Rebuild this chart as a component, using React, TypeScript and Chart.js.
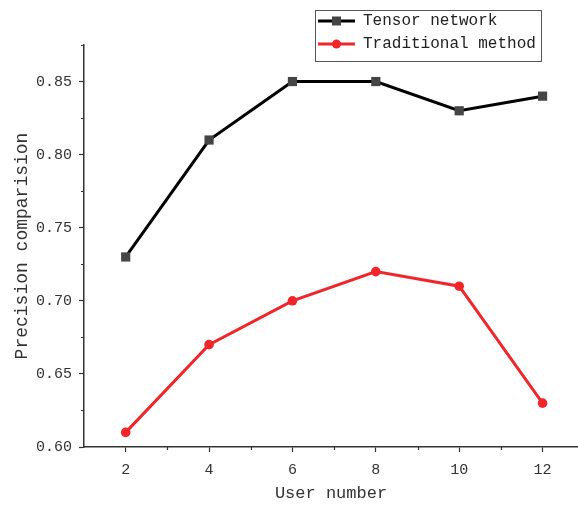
import React, { useEffect, useRef } from "react";
import { Chart, registerables } from "chart.js";

Chart.register(...registerables);

// Number of users on the x axis
const userNumbers = [2, 4, 6, 8, 10, 12];
// Precision of each method
const tensorNetwork = [0.73, 0.81, 0.85, 0.85, 0.83, 0.84];
const traditionalMethod = [0.61, 0.67, 0.70, 0.72, 0.71, 0.63];
// Axis ticks
const xMajorTicks = [2, 4, 6, 8, 10, 12];
const xMinorTicks = [3, 5, 7, 9, 11];
const yMajorTicks = [0.6, 0.65, 0.7, 0.75, 0.8, 0.85];
const yMinorTicks = [0.625, 0.675, 0.725, 0.775, 0.825, 0.875];

const seriesNames = ["Tensor network", "Traditional method"];
const lineColors = ["#000000", "#f0262a"];
const markerColors = ["#454545", "#f0262a"];
const markerStyles = ["rect", "circle"];

const FONT = "'Liberation Mono', 'DejaVu Sans Mono', monospace";
const AXIS = "#333333";

const minorTicksPlugin = {
  id: "minorTicks",
  afterDraw(chart: any) {
    const { ctx, scales } = chart;
    const x = scales.x;
    const y = scales.y;
    ctx.save();
    ctx.strokeStyle = AXIS;
    ctx.lineWidth = 1.2;
    ctx.beginPath();
    xMinorTicks.forEach((v) => {
      const px = Math.round(x.getPixelForValue(v)) + 0.5;
      ctx.moveTo(px, y.bottom);
      ctx.lineTo(px, y.bottom + 3);
    });
    yMinorTicks.forEach((v) => {
      const py = Math.round(y.getPixelForValue(v)) + 0.5;
      ctx.moveTo(x.left, py);
      ctx.lineTo(x.left - 3, py);
    });
    ctx.stroke();
    ctx.restore();
  },
};

const legendBoxPlugin = {
  id: "legendBox",
  afterDraw(chart: any) {
    const { ctx } = chart;
    const left = 315;
    const top = 10;
    const width = 226;
    const height = 51;
    ctx.save();
    ctx.fillStyle = "#ffffff";
    ctx.fillRect(left, top, width, height);
    ctx.strokeStyle = "#555555";
    ctx.lineWidth = 1;
    ctx.strokeRect(left + 0.5, top + 0.5, width, height);
    const rows = [21, 44];
    chart.data.datasets.forEach((ds: any, i: number) => {
      const cy = rows[i];
      ctx.strokeStyle = lineColors[i];
      ctx.lineWidth = 3;
      ctx.beginPath();
      ctx.moveTo(318, cy);
      ctx.lineTo(355, cy);
      ctx.stroke();
      ctx.fillStyle = markerColors[i];
      if (markerStyles[i] === "rect") {
        ctx.fillRect(332, cy - 4.5, 9, 9);
      } else {
        ctx.beginPath();
        ctx.arc(336.5, cy, 4.5, 0, Math.PI * 2);
        ctx.fill();
      }
      ctx.fillStyle = "#222222";
      ctx.font = `16px ${FONT}`;
      ctx.textBaseline = "middle";
      ctx.textAlign = "left";
      ctx.fillText(ds.label, 363, cy);
    });
    ctx.restore();
  },
};

export default function App() {
  const canvasRef = useRef<HTMLCanvasElement | null>(null);

  useEffect(() => {
    if (!canvasRef.current) return;
    const chart = new Chart(canvasRef.current, {
      type: "line",
      data: {
        datasets: [tensorNetwork, traditionalMethod].map((vals, i) => ({
          label: seriesNames[i],
          data: userNumbers.map((u, j) => ({ x: u, y: vals[j] })),
          borderColor: lineColors[i],
          backgroundColor: markerColors[i],
          borderWidth: 3,
          pointStyle: markerStyles[i] as any,
          pointRadius: i === 0 ? 6.5 : 4.8,
          pointBorderWidth: 0,
          pointBackgroundColor: markerColors[i],
          tension: 0,
        })),
      },
      options: {
        animation: false,
        responsive: true,
        maintainAspectRatio: false,
        layout: { autoPadding: false, padding: { top: 45, right: 0, left: 0, bottom: 0 } },
        plugins: {
          legend: { display: false },
          tooltip: { enabled: false },
        },
        scales: {
          x: {
            type: "linear",
            min: 1,
            max: 12.85,
            afterBuildTicks: (s: any) => {
              s.ticks = xMajorTicks.map((v) => ({ value: v }));
            },
            afterFit: (s: any) => {
              s.height = 61;
              s.paddingRight = 0;
              s.paddingLeft = 0;
            },
            grid: { drawOnChartArea: false, drawTicks: true, tickLength: 5, tickColor: AXIS, tickWidth: 1.2 },
            border: { display: true, color: AXIS, width: 1.5 },
            ticks: {
              color: AXIS,
              font: { family: FONT, size: 15 },
              padding: 9,
              maxRotation: 0,
              callback: (v: any) => String(v),
            },
            title: {
              display: true,
              text: "User number",
              color: AXIS,
              font: { family: FONT, size: 17 },
              padding: { top: 0, bottom: 4 },
            },
          },
          y: {
            type: "linear",
            min: 0.6,
            max: 0.875,
            afterBuildTicks: (s: any) => {
              s.ticks = yMajorTicks.map((v) => ({ value: v }));
            },
            afterFit: (s: any) => {
              s.width = 84;
            },
            grid: { drawOnChartArea: false, drawTicks: true, tickLength: 5, tickColor: AXIS, tickWidth: 1.2 },
            border: { display: true, color: AXIS, width: 1.5 },
            ticks: {
              color: AXIS,
              font: { family: FONT, size: 15 },
              padding: 7,
              callback: (v: any) => Number(v).toFixed(2),
            },
            title: {
              display: true,
              text: "Precision comparision",
              color: AXIS,
              font: { family: FONT, size: 18 },
              padding: { top: 11, bottom: 0 },
            },
          },
        },
      },
      plugins: [minorTicksPlugin, legendBoxPlugin],
    });
    return () => chart.destroy();
  }, []);

  return (
    <div style={{ position: "fixed", left: 0, top: 0, width: 578, height: 508, background: "#ffffff" }}>
      <canvas ref={canvasRef} />
    </div>
  );
}
